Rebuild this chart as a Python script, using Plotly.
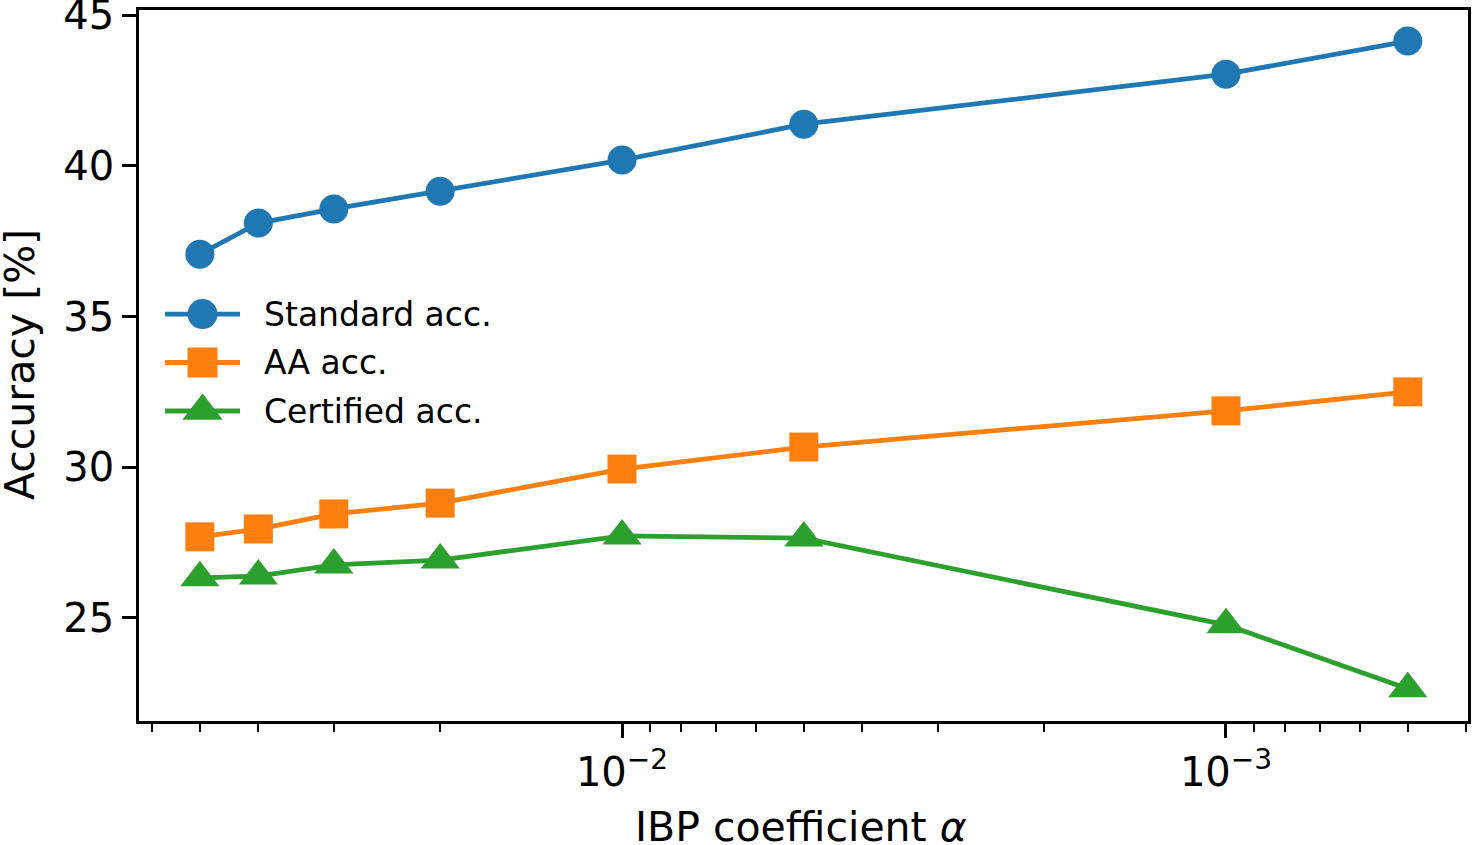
import plotly.graph_objects as go

alpha = [0.05, 0.04, 0.03, 0.02, 0.01, 0.005, 0.001, 0.0005]
standard_acc = [37.07, 38.10, 38.57, 39.16, 40.19, 41.38, 43.04, 44.14]
aa_acc = [27.69, 27.95, 28.45, 28.81, 29.94, 30.67, 31.87, 32.50]
certified_acc = [26.33, 26.39, 26.76, 26.92, 27.72, 27.65, 24.77, 22.65]

series_names = ["Standard acc.", "AA acc.", "Certified acc."]
colors = ["#1f77b4", "#ff7f0e", "#2ca02c"]
symbols = ["circle", "square", "triangle-up"]
sizes = [29, 29, 34]

major_x = [0.01, 0.001]
major_x_text = ["10<sup>−2</sup>", "10<sup>−3</sup>"]
minor_x = [0.06, 0.05, 0.04, 0.03, 0.02,
           0.009, 0.008, 0.007, 0.006, 0.005, 0.004, 0.003, 0.002,
           0.0009, 0.0008, 0.0007, 0.0006, 0.0005, 0.0004]
y_ticks = [25, 30, 35, 40, 45]
x_title = "IBP coefficient <i>α</i>"
y_title = "Accuracy [%]"

fig = go.Figure()
for name, ys, c, s, sz in zip(series_names, [standard_acc, aa_acc, certified_acc], colors, symbols, sizes):
    fig.add_trace(go.Scatter(
        x=alpha, y=ys, name=name, mode="lines+markers", showlegend=False,
        line=dict(color=c, width=4.8),
        marker=dict(color=c, symbol=s, size=sz, line=dict(width=0)),
        xaxis="x", yaxis="y",
    ))

# legend drawn in a small inset axis (matplotlib-style legend handles)
for i, (name, c, s, sz) in enumerate(zip(series_names, colors, symbols, sizes)):
    fig.add_trace(go.Scatter(
        x=[0, 0.5, 1], y=[i, i, i], mode="lines",
        line=dict(color=c, width=4.8), showlegend=False, hoverinfo="skip",
        xaxis="x2", yaxis="y2",
    ))
    fig.add_trace(go.Scatter(
        x=[0.5], y=[i], mode="markers",
        marker=dict(color=c, symbol=s, size=sz + 1, line=dict(width=0)),
        showlegend=False, hoverinfo="skip", xaxis="x2", yaxis="y2",
    ))
    fig.add_annotation(
        x=0.0925, y=i, xref="paper", yref="y2", text=name, showarrow=False,
        xanchor="left", yanchor="middle", font=dict(size=33),
    )

# axis titles
fig.add_annotation(x=0.498, y=-0.149, xref="paper", yref="paper", text=x_title,
                   showarrow=False, xanchor="center", yanchor="middle",
                   font=dict(size=41))
fig.add_annotation(x=-0.0895, y=0.5007, xref="paper", yref="paper", text=y_title,
                   showarrow=False, xanchor="center", yanchor="middle",
                   textangle=-90, font=dict(size=41))

font_family = "DejaVu Sans"
fig.update_layout(
    width=1472, height=845,
    margin=dict(l=139, r=4, t=10, b=124),
    paper_bgcolor="white", plot_bgcolor="white",
    font=dict(family=font_family, color="black", size=40),
    showlegend=False,
    xaxis=dict(
        type="log", range=[-1.2003, -3.4007], domain=[0, 1], automargin=False,
        tickmode="array", tickvals=major_x, ticktext=major_x_text,
        ticks="outside", ticklen=14, tickwidth=2.5, tickcolor="black",
        minor=dict(tickmode="array", tickvals=minor_x, ticks="outside",
                   ticklen=8, tickwidth=2, tickcolor="black", showgrid=False),
        showline=True, linewidth=2.5, linecolor="black", mirror=True,
        showgrid=False, zeroline=False,
        tickfont=dict(size=40),
    ),
    yaxis=dict(
        range=[21.58, 45.17], domain=[0, 1], automargin=False,
        tickmode="array", tickvals=y_ticks, ticklabeloverflow="allow",
        ticks="outside", ticklen=14, tickwidth=2.5, tickcolor="black",
        showline=True, linewidth=2.5, linecolor="black", mirror=True,
        showgrid=False, zeroline=False,
        tickfont=dict(size=40),
    ),
    xaxis2=dict(domain=[0.0196, 0.076], range=[0, 1], anchor="y2",
                visible=False, fixedrange=True),
    yaxis2=dict(domain=[0.4019, 0.6065], range=[2.5, -0.5], anchor="x2",
                visible=False, fixedrange=True),
)

fig.write_html("out.html")
